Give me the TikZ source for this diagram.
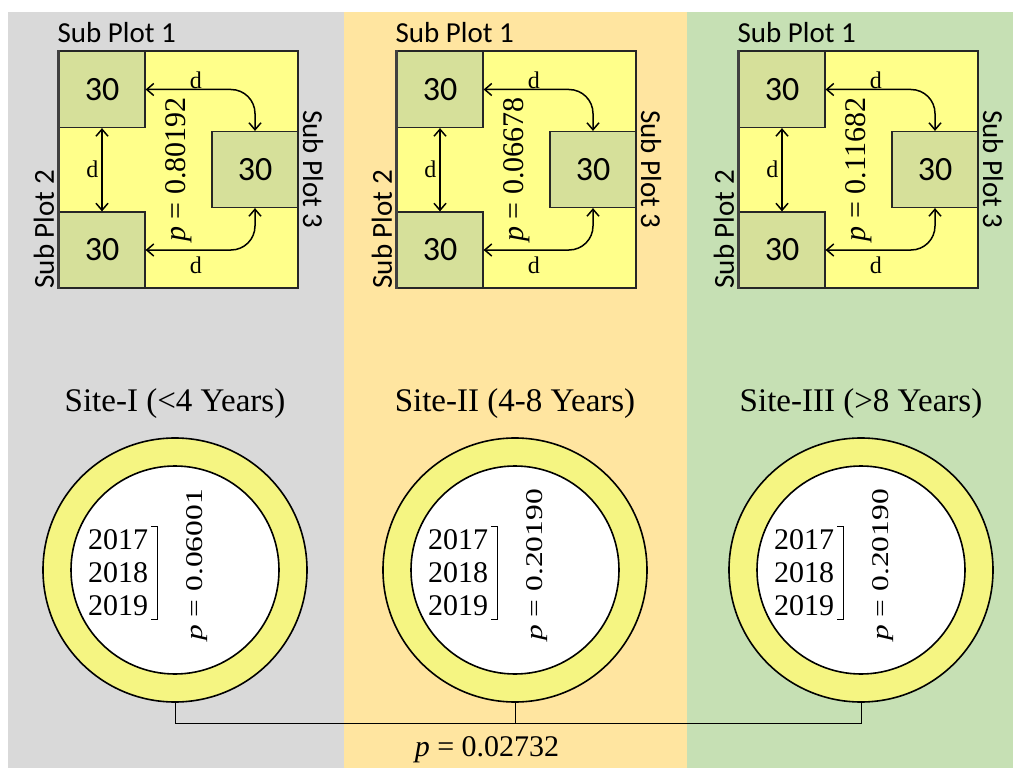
\documentclass[tikz,border=0pt]{standalone}
\usepackage{fontspec}
\setmainfont{Liberation Serif}
\newfontfamily\subfont{Carlito}
\usepackage{graphicx}
\usetikzlibrary{arrows.meta, positioning}

\definecolor{panelgray}{HTML}{D9D9D9}
\definecolor{panelorange}{HTML}{FFE5A0}
\definecolor{panelgreen}{HTML}{C6E0B4}
\definecolor{plotyellow}{HTML}{FFFF8A}
\definecolor{boxgreen}{HTML}{D6E09A}
\definecolor{ringyellow}{HTML}{F5F582}

\begin{document}
\begin{tikzpicture}[
  x=1pt, y=-1pt,
  plotsq/.style={draw=black!85, line width=1.2pt, fill=plotyellow, inner sep=0pt,
                 minimum width=239pt, minimum height=237pt},
  subsq/.style={draw=black!85, line width=1.2pt, fill=boxgreen, inner sep=0pt,
                minimum width=86pt, minimum height=76pt,
                font=\subfont\fontsize{34}{34}\selectfont},
  tag/.style={font=\subfont\fontsize{29}{29}\selectfont, inner sep=0pt},
  dist/.style={font=\fontsize{24}{24}\selectfont, inner sep=1pt},
  pval/.style={font=\fontsize{30}{30}\selectfont, inner sep=0pt},
  site/.style={font=\fontsize{33}{33}\selectfont, inner sep=0pt},
  years/.style={font=\fontsize{30}{33}\selectfont, align=left, inner sep=0pt},
  ring/.style={circle, draw, line width=1.6pt, fill=ringyellow, minimum size=264pt, inner sep=0pt},
  core/.style={circle, draw, line width=1.6pt, fill=white, minimum size=208pt, inner sep=0pt},
  dblarrow/.style={{Straight Barb[length=7pt,width=12pt]}-{Straight Barb[length=7pt,width=12pt]},
                   line width=1.5pt},
  link/.style={line width=1pt}
]
\useasboundingbox (0,0) rectangle (1013,768);
\fill[white] (0,0) rectangle (1013,768);
\fill[panelgray] (8,12) rectangle (344,768);
\fill[panelorange] (344,12) rectangle (687,768);
\fill[panelgreen] (687,12) rectangle (1013,768);

% one panel per site
\foreach \ox/\cx/\site/\psq/\pc [count=\i] in
  {59/175/{Site-I (<4 Years)}/0.80192/0.06001,
   397/515/{Site-II (4-8 Years)}/0.06678/0.20190,
   739/861/{Site-III (>8 Years)}/0.11682/0.20190} {
  \node[plotsq] (sq-\i) at (\ox+119.5,169.5) {};
  \node[subsq] (b1-\i) at (\ox+43,89.5) {30};
  \node[subsq] (b2-\i) at (\ox+43,250) {30};
  \node[subsq] (b3-\i) at (\ox+196,169.5) {30};
  \draw[line width=3pt, black!75] (sq-\i.north west) -- (sq-\i.south west);

  \draw[dblarrow] (b1-\i) -- (b2-\i) node[dist, midway, left=2pt] {d};
  \draw[dblarrow, rounded corners=24pt] (b1-\i.east) -| (b3-\i.north)
    node[dist, pos=0.23, above=-1pt] {d};
  \draw[dblarrow, rounded corners=24pt] (b2-\i.east) -| (b3-\i.south)
    node[dist, pos=0.23, below=5pt] {d};
  \node[pval, rotate=90] at (sq-\i) {\textit{p} = \psq};

  \node[tag, above right=7pt and -1pt of sq-\i.north west] {Sub Plot 1};
  \node[tag, rotate=90, anchor=south west] at ([xshift=-4pt]sq-\i.south west) {Sub Plot 2};
  \node[tag, rotate=-90, anchor=south] at ([xshift=4pt]b3-\i.east) {Sub Plot 3};

  \node[ring] (c-\i) at (\cx,570) {};
  \node[core] at (c-\i) {};
  \node[site, above=18pt of c-\i] {\site};
  \node[years] (yr-\i) at ([xshift=-57pt, yshift=-3pt]c-\i.center) {2017\\2018\\2019};
  \draw[line width=0.9pt] ([xshift=3pt, yshift=3pt]yr-\i.north east)
    -| ([xshift=9pt, yshift=-3pt]yr-\i.south east) -- ([xshift=3pt, yshift=-3pt]yr-\i.south east);
  \node[pval, rotate=90] at ([xshift=22pt, yshift=5pt]c-\i.center)
    {\scalebox{1.05}[0.8]{\textit{p} = \pc}};
}

\draw[link] (c-1.south) -- ++(0,21) coordinate (bus-l) -| (c-3.south);
\draw[link] (c-2.south) -- (c-2.south |- bus-l) coordinate (bus-m);
\node[pval, below=13pt of bus-m, xshift=-28pt] {\textit{p} = 0.02732};
\end{tikzpicture}
\end{document}
